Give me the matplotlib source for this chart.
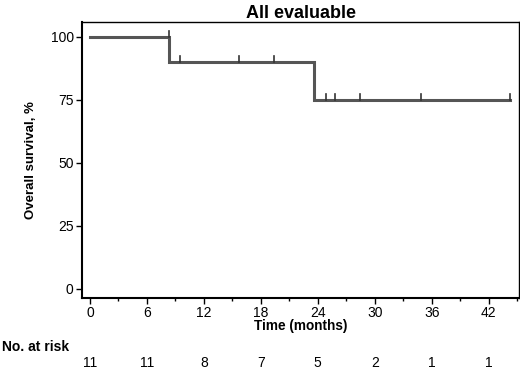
import numpy as np
import matplotlib.pyplot as plt
from matplotlib.ticker import MultipleLocator

plt.rcParams['font.family'] = ['Liberation Sans', 'DejaVu Sans']

# step curve (months, survival %)
step_times = [0, 8.3, 23.6, 44.2]
step_surv = [100, 90, 75, 75]

# censored observations
censor_times = [8.3, 9.5, 15.7, 19.4, 24.9, 25.8, 28.5, 34.9, 44.2]
censor_surv = [100, 90, 90, 90, 75, 75, 75, 75, 75]

# number at risk table
risk_times = [0, 6, 12, 18, 24, 30, 36, 42]
risk_counts = [11, 11, 8, 7, 5, 2, 1, 1]

fig = plt.figure(figsize=(5.2, 3.69), dpi=100)
ax = fig.add_axes([0.1577, 0.1924, 0.8404, 0.748])

ax.step(step_times, step_surv, where='post', color='#555555', lw=2.2, solid_joinstyle='miter')
# censor marks: short upward ticks
for t, s in zip(censor_times, censor_surv):
    ax.plot([t, t], [s - 0.1, s + 2.3], color='#333333', lw=1.2)

ax.set_xlim(-0.84, 45.2)
ax.set_ylim(-3.6, 105.9)
ax.set_xticks(risk_times)
ax.xaxis.set_minor_locator(MultipleLocator(3))
ax.set_yticks([0, 25, 50, 75, 100])
ax.tick_params(axis='both', direction='out', length=4, width=1, labelsize=10, pad=2)
ax.tick_params(axis='x', which='minor', direction='out', length=2.5, width=1)
for sp in ax.spines.values():
    sp.set_linewidth(1)
for sp in ['left', 'bottom']:
    ax.spines[sp].set_linewidth(1.5)

ax.set_title('All evaluable', fontsize=13, fontweight='bold', pad=3)
ax.set_ylabel('Overall survival, %', fontsize=9.5, fontweight='bold', labelpad=10)
ax.set_xlabel('Time (months)', fontsize=9.8, fontweight='bold', labelpad=-1)

fig.text(0.004, 0.06, 'No. at risk', fontsize=10, fontweight='bold', va='center')
for t, n in zip(risk_times, risk_counts):
    ax.text(t, -0.235, str(n), transform=ax.get_xaxis_transform(), ha='center',
            va='center', fontsize=10)

fig.savefig('out.png', dpi=100)
